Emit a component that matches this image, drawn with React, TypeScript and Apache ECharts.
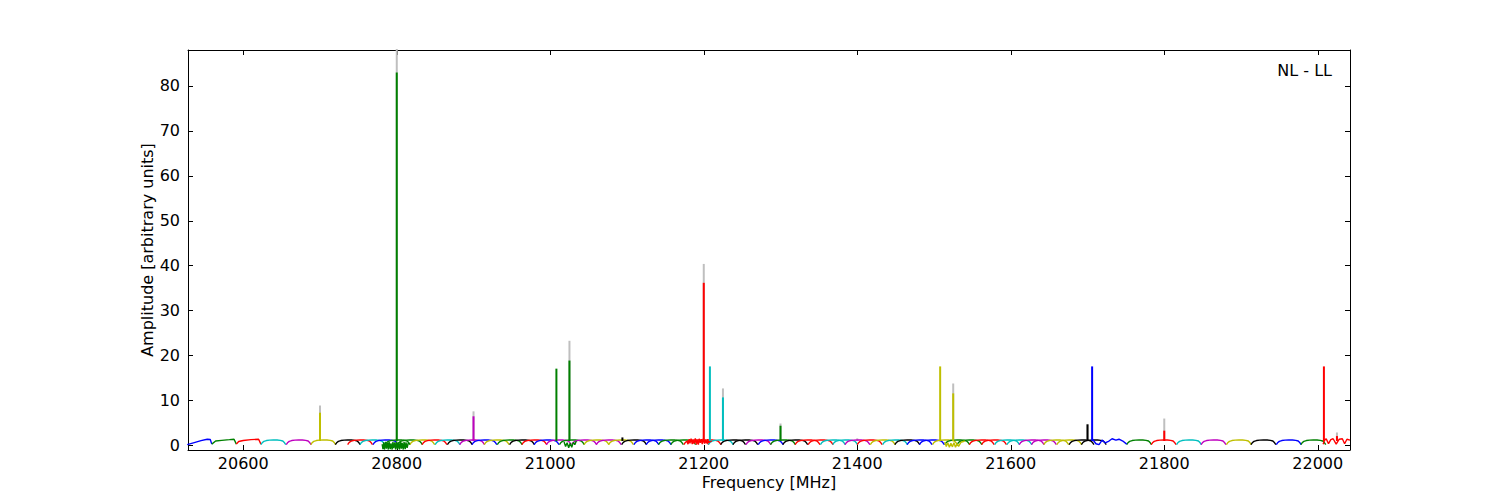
import React, { useEffect, useRef } from "react";
import * as echarts from "echarts";

const COLOR_MAP: Record<string, string> = {
  b: "#0000ff",
  g: "#008000",
  r: "#ff0000",
  c: "#00bfbf",
  m: "#bf00bf",
  y: "#bfbf00",
  k: "#000000",
};
const GRAY = "#bfbfbf";

const X_MIN = 20528;
const X_MAX = 22042;
const Y_MIN = -1;
const Y_MAX = 88;

// Bandpass shape of a sub-band (relative position in band, amplitude)
const SEG_WIDTH = 32.4;
const SHAPE_POS = [0, 0.05, 0.12, 0.22, 0.35, 0.5, 0.65, 0.78, 0.88, 0.95, 1];
const SHAPE_VAL = [0.2, 0.6, 0.92, 1.1, 1.2, 1.24, 1.22, 1.15, 1.0, 0.6, 0.2];

// Sub-band start frequencies and colours
const LEFT_STARTS = [20623, 20656, 20688];
const LEFT_COLORS = ["c", "m", "y"];
const MID_STARTS = [
  20720, 20736, 20752, 20769, 20785, 20801, 20817, 20833, 20850, 20866, 20882, 20898,
  20914, 20931, 20947, 20963, 20979, 20995, 21012, 21028, 21044, 21060, 21076, 21093,
  21109, 21125, 21141, 21157, 21174, 21190, 21206, 21222, 21238, 21255, 21271, 21287,
  21303, 21319, 21336, 21352, 21368, 21384, 21400, 21417, 21433, 21449, 21465, 21481,
  21498, 21514, 21530, 21546, 21562, 21579, 21595, 21611, 21627, 21643, 21660, 21676,
  21692,
];
const MID_COLORS = [
  "k", "r", "c", "b", "g", "g", "y", "r", "c", "k", "m", "b",
  "y", "g", "k", "r", "b", "m", "g", "m", "y", "m", "y", "k",
  "b", "b", "g", "g", "r", "r", "c", "k", "k", "m", "b", "g",
  "k", "r", "r", "c", "c", "m", "r", "y", "c", "k", "b", "b",
  "y", "g", "g", "r", "r", "c", "c", "m", "m", "y", "y", "k",
  "k",
];
const RIGHT_STARTS = [21751, 21783, 21816, 21848, 21881, 21913, 21946, 21978];
const RIGHT_COLORS = ["g", "r", "c", "m", "y", "k", "b", "g"];

// Irregular pieces
const BLUE_EDGE = [[20527, 0.2], [20535, 0.6], [20545, 1.1], [20553, 1.4], [20557, 1.35], [20559, 0.3]];
const GREEN_EDGE = [[20559, 0.3], [20564, 1.0], [20572, 1.15], [20582, 1.3], [20588, 1.4], [20591, 0.3]];
const RED_EDGE = [[20591, 0.3], [20594, 0.9], [20600, 1.1], [20610, 1.3], [20620, 1.4], [20623, 0.3]];
const BLUE_WIGGLE = [
  [21706, 1.5], [21711, 0.4], [21715, 0.2], [21719, 1.2], [21723, 0.6], [21728, 1.0],
  [21732, 1.5], [21737, 1.2], [21741, 1.4], [21746, 1.0], [21751, 0.3],
];
const RED_TAIL = [
  [22007, 0.3], [22009, 1.2], [22011, 1.5], [22014, 0.4], [22017, 1.3], [22020, 1.5],
  [22024, 0.3], [22028, 1.4], [22032, 1.5], [22035, 0.4], [22038, 1.4], [22042, 1.2],
];
const GREEN_DENSE = [
  [20781, 0.3], [20782, -0.8], [20783, 0.7], [20784, -0.9], [20785.5, 0.8], [20786.5, -0.7],
  [20788, 0.6], [20789, -0.9], [20790, 0.8], [20791.5, -0.8], [20792.5, 0.5], [20794, -0.9],
  [20795, 0.8], [20796, -0.6], [20797.5, 0.7], [20798.5, -0.9], [20800, 0.9], [20801, -0.8],
  [20802.5, 0.7], [20803.5, -0.9], [20805, 0.8], [20806, -0.7], [20807, 0.6], [20808.5, -0.9],
  [20809.5, 0.8], [20811, -0.8], [20812, 0.7], [20813.5, -0.5], [20815, 0.6], [20817, 0.3],
];
const GREEN_DENSE2 = [
  [21018, 0.8], [21020, -0.2], [21022, 0.6], [21024, -0.5], [21026, 0.5], [21028, -0.4],
  [21030, 0.7], [21032, 0.2], [21034, 1.0],
];
const RED_DENSE = [
  [21178, 1.0], [21179.5, 0.3], [21181, 1.4], [21182, 0.5], [21183.5, 1.5], [21185, 0.3],
  [21186, 1.3], [21187.5, 0.4], [21189, 1.6], [21190, 0.5], [21191.5, 1.2], [21193, 0.2],
  [21194, 1.5], [21195.5, 0.6], [21197, 1.4], [21198, 0.3], [21199.5, 1.5], [21201, 0.4],
  [21202, 1.3], [21203.5, 0.5], [21205, 1.4], [21206.5, 0.6], [21208, 1.1], [21210, 0.8],
];
const YELLOW_DENSE = [
  [21514, 0.8], [21516, -0.2], [21518, 0.6], [21520, -0.4], [21522, 0.5], [21524, -0.3],
  [21526, 0.6], [21528, -0.4], [21530, 0.4], [21532, -0.2], [21535, 0.7], [21540, 1.0],
];

// Spikes (frequency, peak amplitude, colour)
const SPIKE_FREQS = [20700, 20800, 20900, 21008, 21025, 21094, 21200, 21208, 21225, 21300, 21508, 21525, 21700, 21706, 21800, 22008, 22025];
const SPIKE_HEIGHTS = [7.3, 83, 6.5, 17.1, 18.9, 1.8, 36.2, 17.6, 10.7, 4.4, 17.6, 11.6, 4.7, 17.6, 3.3, 17.6, 2.1];
const SPIKE_COLORS = ["y", "g", "m", "g", "g", "k", "r", "c", "c", "g", "y", "y", "k", "b", "r", "r", "r"];
const GRAY_FREQS = [20700, 20800, 20900, 21025, 21200, 21225, 21300, 21400, 21525, 21700, 21800, 22025];
const GRAY_HEIGHTS = [8.9, 90, 7.6, 23.3, 40.4, 12.7, 4.9, 1.6, 13.8, 4.8, 6.0, 2.9];
const SPIKE_BASE = 1.0;

const FONT = "DejaVu Sans";

function bandData(start: number) {
  return SHAPE_POS.map((p, i) => [start + p * SEG_WIDTH, SHAPE_VAL[i]]);
}

function lineSeries(data: number[][], color: string, width = 1.4) {
  return {
    type: "line",
    data,
    showSymbol: false,
    symbol: "none",
    silent: true,
    lineStyle: { color, width },
    xAxisIndex: 0,
    yAxisIndex: 0,
  };
}

export default function App() {
  const ref = useRef<HTMLDivElement>(null);

  useEffect(() => {
    if (!ref.current) return;
    const chart = echarts.init(ref.current, undefined, { renderer: "svg" });

    const series: any[] = [];
    GRAY_FREQS.forEach((f, i) => {
      series.push(lineSeries([[f, SPIKE_BASE], [f, GRAY_HEIGHTS[i]]], GRAY, 2));
    });
    series.push(lineSeries(BLUE_EDGE, COLOR_MAP.b));
    series.push(lineSeries(GREEN_EDGE, COLOR_MAP.g));
    series.push(lineSeries(RED_EDGE, COLOR_MAP.r));
    LEFT_STARTS.forEach((s, i) => series.push(lineSeries(bandData(s), COLOR_MAP[LEFT_COLORS[i]])));
    MID_STARTS.forEach((s, i) => series.push(lineSeries(bandData(s), COLOR_MAP[MID_COLORS[i]])));
    RIGHT_STARTS.forEach((s, i) => series.push(lineSeries(bandData(s), COLOR_MAP[RIGHT_COLORS[i]])));
    series.push(lineSeries(BLUE_WIGGLE, COLOR_MAP.b));
    series.push(lineSeries(RED_TAIL, COLOR_MAP.r));
    series.push(lineSeries(GREEN_DENSE, COLOR_MAP.g));
    series.push(lineSeries(GREEN_DENSE2, COLOR_MAP.g));
    series.push(lineSeries(RED_DENSE, COLOR_MAP.r));
    series.push(lineSeries(YELLOW_DENSE, COLOR_MAP.y));
    SPIKE_FREQS.forEach((f, i) => {
      series.push(lineSeries([[f, SPIKE_BASE], [f, SPIKE_HEIGHTS[i]]], COLOR_MAP[SPIKE_COLORS[i]], 2));
    });

    const tickStyle = { show: true, inside: true, length: 5, lineStyle: { color: "#000", width: 1 } };
    const plain = (v: number) => String(Math.round(v));

    chart.setOption({
      animation: false,
      backgroundColor: "#fff",
      grid: { left: 188, right: 150, top: 50, bottom: 50, containLabel: false },
      graphic: [
        {
          type: "text",
          right: 168,
          top: 62,
          style: { text: "NL - LL", font: `16px '${FONT}'`, fill: "#000" },
        },
      ],
      xAxis: [
        {
          type: "value",
          min: X_MIN,
          max: X_MAX,
          splitNumber: 8,
          position: "bottom",
          name: "Frequency [MHz]",
          nameLocation: "middle",
          nameGap: 24,
          nameMoveOverlap: false,
          nameTextStyle: { fontFamily: FONT, fontSize: 16, color: "#000" },
          axisLine: { show: true, onZero: false, lineStyle: { color: "#000", width: 1 } },
          axisTick: tickStyle,
          axisLabel: { fontFamily: FONT, fontSize: 16, color: "#000", margin: 5, formatter: plain, showMinLabel: false, showMaxLabel: false },
          splitLine: { show: false },
        },
        {
          type: "value",
          min: X_MIN,
          max: X_MAX,
          splitNumber: 8,
          position: "top",
          axisLine: { show: true, onZero: false, lineStyle: { color: "#000", width: 1 } },
          axisTick: tickStyle,
          axisLabel: { show: false },
          splitLine: { show: false },
        },
      ],
      yAxis: [
        {
          type: "value",
          min: Y_MIN,
          max: Y_MAX,
          splitNumber: 9,
          position: "left",
          name: "Amplitude [arbitrary units]",
          nameLocation: "middle",
          nameGap: 33,
          nameMoveOverlap: false,
          nameRotate: 90,
          nameTextStyle: { fontFamily: FONT, fontSize: 16, color: "#000" },
          axisLine: { show: true, onZero: false, lineStyle: { color: "#000", width: 1 } },
          axisTick: tickStyle,
          axisLabel: { fontFamily: FONT, fontSize: 16, color: "#000", margin: 8, formatter: plain, showMinLabel: false, showMaxLabel: false },
          splitLine: { show: false },
        },
        {
          type: "value",
          min: Y_MIN,
          max: Y_MAX,
          splitNumber: 9,
          position: "right",
          axisLine: { show: true, onZero: false, lineStyle: { color: "#000", width: 1 } },
          axisTick: tickStyle,
          axisLabel: { show: false },
          splitLine: { show: false },
        },
      ],
      series,
    });

    return () => chart.dispose();
  }, []);

  return <div ref={ref} style={{ width: 1500, height: 500, margin: -8 }} />;
}
